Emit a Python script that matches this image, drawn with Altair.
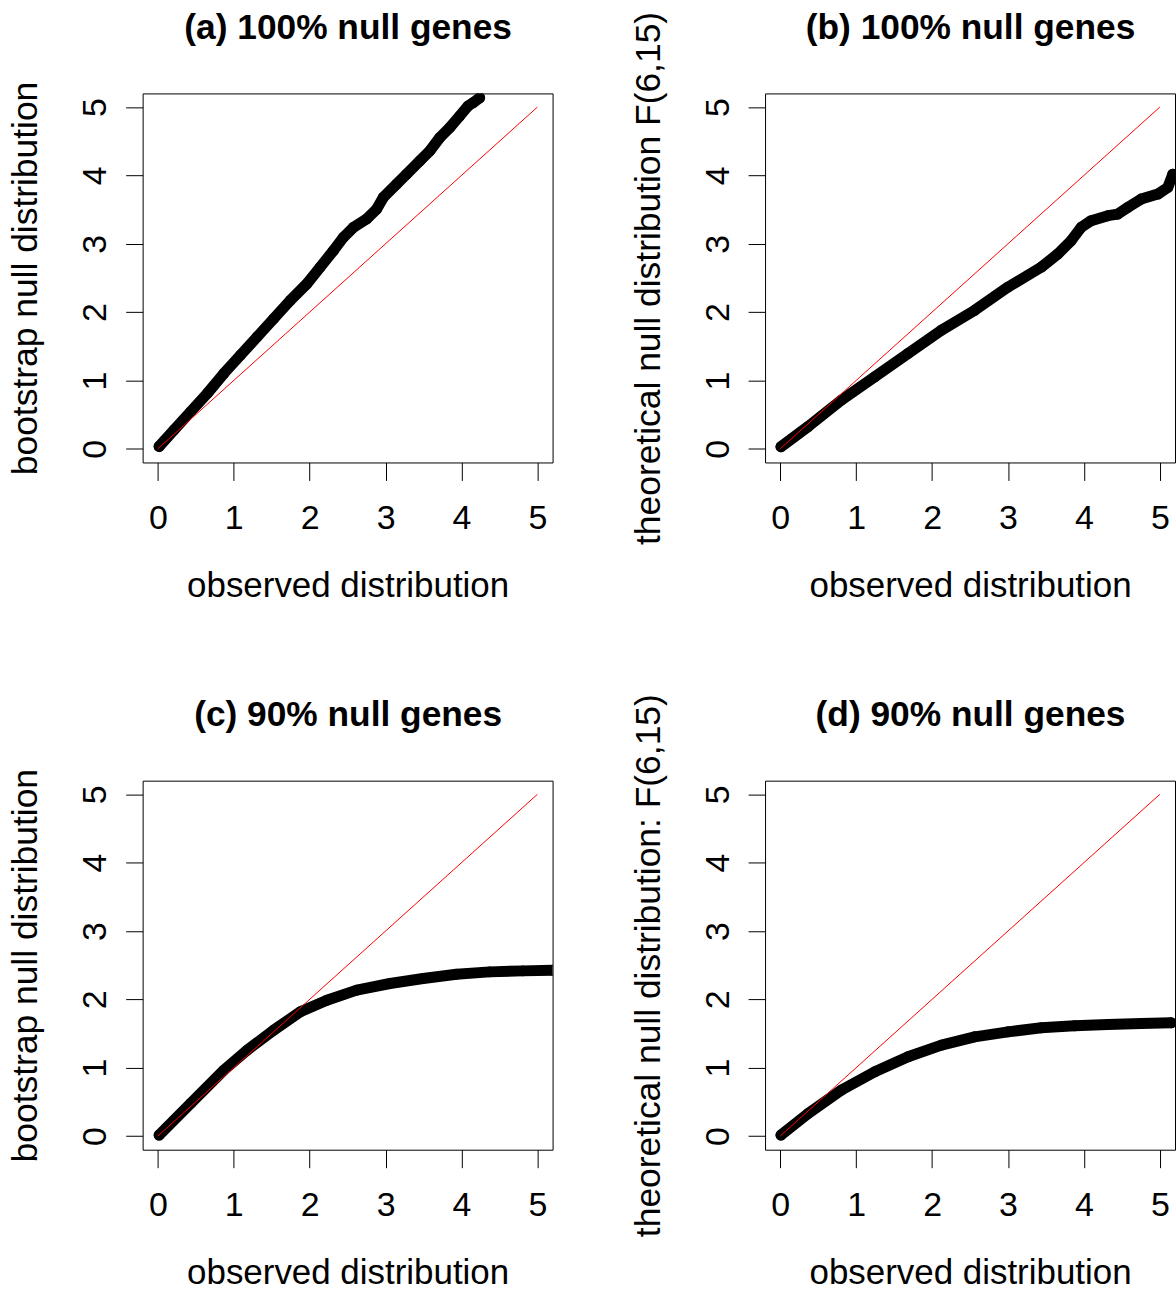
import altair as alt
import pandas as pd

FONT = "Liberation Sans"

ticks = [0, 1, 2, 3, 4, 5]
ref_x = [0, 5]
ref_y = [0, 5]

titles = ["(a) 100% null genes", "(b) 100% null genes",
          "(c) 90% null genes", "(d) 90% null genes"]
y_titles = ["bootstrap null distribution",
            "theoretical null distribution F(6,15)",
            "bootstrap null distribution",
            "theoretical null distribution: F(6,15)"]
x_title = "observed distribution"

# panel (a): bootstrap null vs observed, 100% null genes
a_x = [0.017, 0.214, 0.433, 0.652, 0.870, 1.089, 1.308, 1.527, 1.745, 1.964,
       2.139, 2.314, 2.445, 2.577, 2.752, 2.883, 2.970, 3.145, 3.277, 3.451,
       3.583, 3.714, 3.845, 3.976, 4.086, 4.151, 4.239]
a_y = [0.034, 0.277, 0.544, 0.811, 1.103, 1.370, 1.637, 1.905, 2.172, 2.415,
       2.658, 2.901, 3.095, 3.241, 3.363, 3.508, 3.678, 3.873, 4.018, 4.213,
       4.359, 4.553, 4.699, 4.869, 5.015, 5.063, 5.136]

# panel (b): theoretical F(6,15) vs observed, 100% null genes
b_x = [0.01, 0.368, 0.807, 1.246, 1.684, 2.123, 2.561, 3.000, 3.439, 3.658,
       3.833, 3.965, 4.096, 4.316, 4.447, 4.579, 4.754, 4.974, 5.105, 5.171]
b_y = [0.03, 0.326, 0.714, 1.054, 1.395, 1.735, 2.026, 2.366, 2.658, 2.852,
       3.047, 3.241, 3.338, 3.411, 3.435, 3.533, 3.654, 3.727, 3.824, 4.018]

# panel (c): bootstrap null vs observed, 90% null genes
c_x = [0.017, 0.433, 0.870, 1.177, 1.527, 1.877, 2.227, 2.620, 3.058, 3.495,
       3.933, 4.370, 4.808, 5.201]
c_y = [0.015, 0.478, 0.965, 1.257, 1.550, 1.818, 1.988, 2.135, 2.232, 2.305,
       2.368, 2.402, 2.417, 2.427]

# panel (d): theoretical F(6,15) vs observed, 90% null genes
d_x = [0.01, 0.368, 0.807, 1.246, 1.684, 2.123, 2.561, 3.000, 3.439, 3.877,
       4.316, 4.754, 5.149]
d_y = [0.015, 0.331, 0.673, 0.940, 1.160, 1.330, 1.452, 1.525, 1.584, 1.613,
       1.633, 1.647, 1.657]

series = [(a_x, a_y), (b_x, b_y), (c_x, c_y), (d_x, d_y)]

W, H = 411, 370


def panel(xs, ys, title, ytitle):
    df = pd.DataFrame({"x": xs, "y": ys})
    ref = pd.DataFrame({"x": ref_x, "y": ref_y})
    xscale = alt.Scale(domain=[-0.2, 5.2], nice=False, zero=False)
    yscale = alt.Scale(domain=[-0.2, 5.2], nice=False, zero=False)
    xaxis = alt.Axis(values=ticks, format="d", title=x_title, grid=False,
                     domain=False, tickSize=18, tickColor="black", tickWidth=1,
                     labelFont=FONT, labelFontSize=34, labelColor="black",
                     labelBaseline="alphabetic", labelPadding=48,
                     titleFont=FONT, titleFontSize=35, titleFontWeight="normal",
                     titleColor="black", titleBaseline="alphabetic", titleY=134)
    yaxis = alt.Axis(values=ticks, format="d", title=ytitle, grid=False,
                     domain=False, tickSize=17, tickColor="black", tickWidth=1,
                     labelFont=FONT, labelFontSize=34, labelColor="black",
                     labelAngle=270, labelAlign="center",
                     labelBaseline="alphabetic", labelPadding=20,
                     titleFont=FONT, titleFontSize=35.5,
                     titleFontWeight="normal",
                     titleColor="black", titleAngle=270, titleAlign="center",
                     titleBaseline="alphabetic", titleX=-106, titleY=H / 2)
    # panel heading drawn as the title of an unlabelled top axis
    topaxis = alt.Axis(orient="top", title=title, labels=False, ticks=False,
                       domain=False, grid=False, titleFont=FONT,
                       titleFontSize=35.4, titleFontWeight="bold",
                       titleColor="black", titleBaseline="alphabetic",
                       titleAlign="center", titleY=-55)
    band = alt.Chart(df).mark_line(
        color="black", strokeWidth=11, strokeCap="round", strokeJoin="round",
        clip=True
    ).encode(x=alt.X("x:Q", scale=xscale, axis=xaxis),
             y=alt.Y("y:Q", scale=yscale, axis=yaxis))
    pts = alt.Chart(df).mark_point(
        shape="circle", filled=False, size=95, color="black", strokeWidth=1.2,
        opacity=1, clip=True
    ).encode(x=alt.X("x:Q", axis=None), y=alt.Y("y:Q", axis=yaxis))
    red = alt.Chart(ref).mark_line(color="red", strokeWidth=1).encode(
        x=alt.X("x:Q", axis=topaxis), y=alt.Y("y:Q", axis=yaxis))
    return alt.layer(band, pts, red).resolve_axis(x="independent").properties(
        width=W, height=H)


panels = [panel(xs, ys, t, yt)
          for (xs, ys), t, yt in zip(series, titles, y_titles)]

chart = alt.concat(
    *panels, columns=2, spacing={"row": 319, "column": 213}, bounds="flush"
).configure_view(stroke="black", strokeWidth=1).properties(
    padding={"left": 8, "top": 8, "right": 0, "bottom": 0},
    background="white")

chart.save("out.html", embed_options={"renderer": "svg", "actions": False})
